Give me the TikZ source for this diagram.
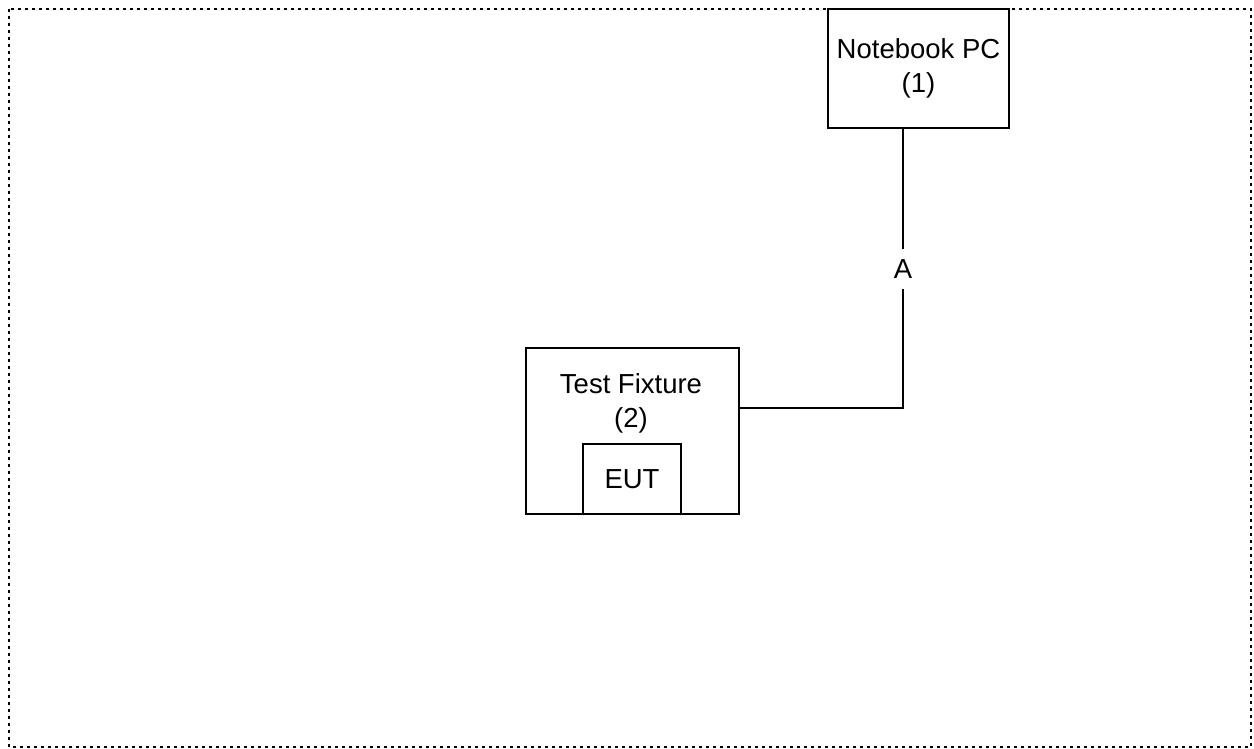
\documentclass[tikz,border=0pt]{standalone}
\usepackage{fontspec}
\setmainfont{Liberation Sans}
\usetikzlibrary{positioning}
\begin{document}
\begin{tikzpicture}[x=1pt, y=-1pt, font=\fontsize{27.5}{34}\selectfont, line join=miter, line width=2.8pt,
		box/.style={draw, rectangle, inner sep=0pt, align=center}]
			\def\xl{9} \def\xr{1251} \def\yt{9} \def\yb{747}
			\useasboundingbox (0,0) rectangle (1254,749);
			\draw[line width=2.6pt, dash pattern=on 2.6pt off 4.4pt] (\xl,\yt) rectangle (\xr,\yb);
			\node[box, minimum width=181pt, minimum height=119pt] (pc) at (918.5,68.5) {Notebook PC\\(1)};
			\node[box, minimum width=213pt, minimum height=166pt] (fix) at (632.5,431) {};
			\node[align=center, inner sep=0pt] (fixlbl) at (631,403) {Test Fixture\\(2)};
			\node[box, minimum width=98pt, minimum height=70pt] (eut) at (632,479) {EUT};
			\coordinate (bend) at (903,408);
			\draw (fix.east |- bend) -- (bend) -- node[fill=white, inner sep=0pt, minimum height=40pt, minimum width=24pt] (lblA) {A} (bend |- pc.south);
		\end{tikzpicture}
\end{document}
